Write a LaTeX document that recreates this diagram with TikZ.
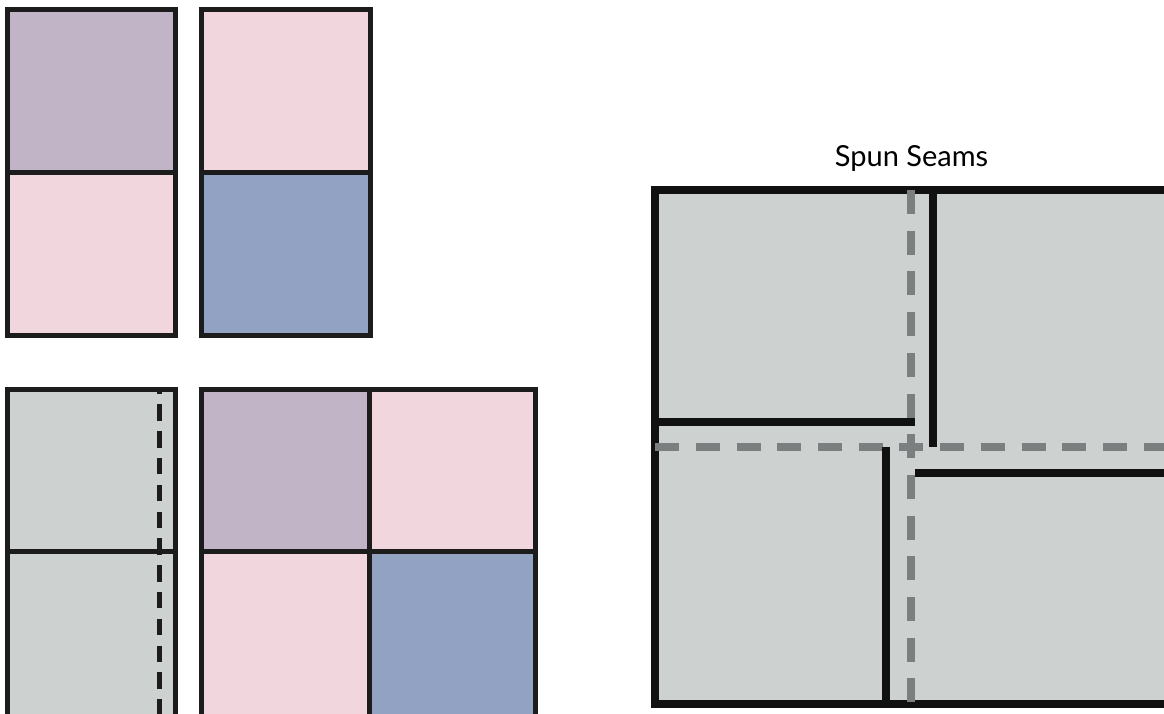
\documentclass[tikz,border=0pt]{standalone}
\usepackage{fontspec}
\newfontfamily\labelfont{Lato}
\definecolor{mauve}{HTML}{C1B4C6}
\definecolor{blush}{HTML}{F2D6DE}
\definecolor{slate}{HTML}{91A2C2}
\definecolor{stone}{HTML}{CDD1D0}
\definecolor{seamgray}{HTML}{7B7F80}
\definecolor{ink}{HTML}{1C1C1C}
\definecolor{inkdark}{HTML}{111111}
\begin{document}
\begin{tikzpicture}[x=1pt,y=-1pt,
  blockline/.style={draw=ink, line width=5pt},
  seamline/.style={draw=inkdark, line width=8pt},
  spinline/.style={draw=seamgray, line width=8pt, dash pattern=on 24pt off 16.7pt},
  foldline/.style={draw=ink, line width=5pt, dash pattern=on 16.5pt off 10.3pt, dash phase=11.5pt}]
\useasboundingbox (0,0) rectangle (1164,713);
\clip (0,0) rectangle (1164,713);

% ---------- upper left pair ----------
\fill[mauve] (7.5,9.8) rectangle (175.8,172.5);
\fill[blush] (7.5,172.5) rectangle (175.8,335.2);
\draw[blockline] (7.5,9.8) rectangle (175.8,335.2);
\draw[blockline] (7.5,172.5) -- (175.8,172.5);

\fill[blush] (201.8,9.8) rectangle (370.2,172.5);
\fill[slate] (201.8,172.5) rectangle (370.2,335.2);
\draw[blockline] (201.8,9.8) rectangle (370.2,335.2);
\draw[blockline] (201.8,172.5) -- (370.2,172.5);

% ---------- lower left folded unit ----------
\fill[stone] (7.5,389) rectangle (175.2,722);
\draw[blockline] (7.5,389) rectangle (175.2,722);
\draw[blockline] (7.5,551.5) -- (175.2,551.5);
\draw[foldline] (159.2,389) -- (159.2,722);

% ---------- lower four patch ----------
\fill[mauve] (201.8,389) rectangle (369.2,551.5);
\fill[blush] (369.2,389) rectangle (535.8,551.5);
\fill[blush] (201.8,551.5) rectangle (369.2,722);
\fill[slate] (369.2,551.5) rectangle (535.8,722);
\draw[blockline] (201.8,389) rectangle (535.8,722);
\draw[blockline] (201.8,551.5) -- (535.8,551.5);
\draw[blockline] (369.2,389) -- (369.2,722);

% ---------- spun seams ----------
\node[font=\labelfont\fontsize{29}{34}\selectfont, anchor=base, inner sep=0pt] (title) at (911.5,166) {Spun Seams};

\coordinate (tl) at (655.2,190);
\coordinate (br) at (1169,704);
\fill[stone] (tl) rectangle (br);
\draw[seamline] (tl) rectangle (br);
\draw[spinline] (911.3,190) -- (911.3,704);
\draw[spinline] (655.2,446.7) -- (1169,446.7);
\draw[seamline] (655.2,421.7) -- (915.3,421.7);
\draw[seamline] (932.7,190) -- (932.7,446.7);
\draw[seamline] (886,446.7) -- (886,704);
\draw[seamline] (915.3,472.7) -- (1169,472.7);
\end{tikzpicture}
\end{document}
